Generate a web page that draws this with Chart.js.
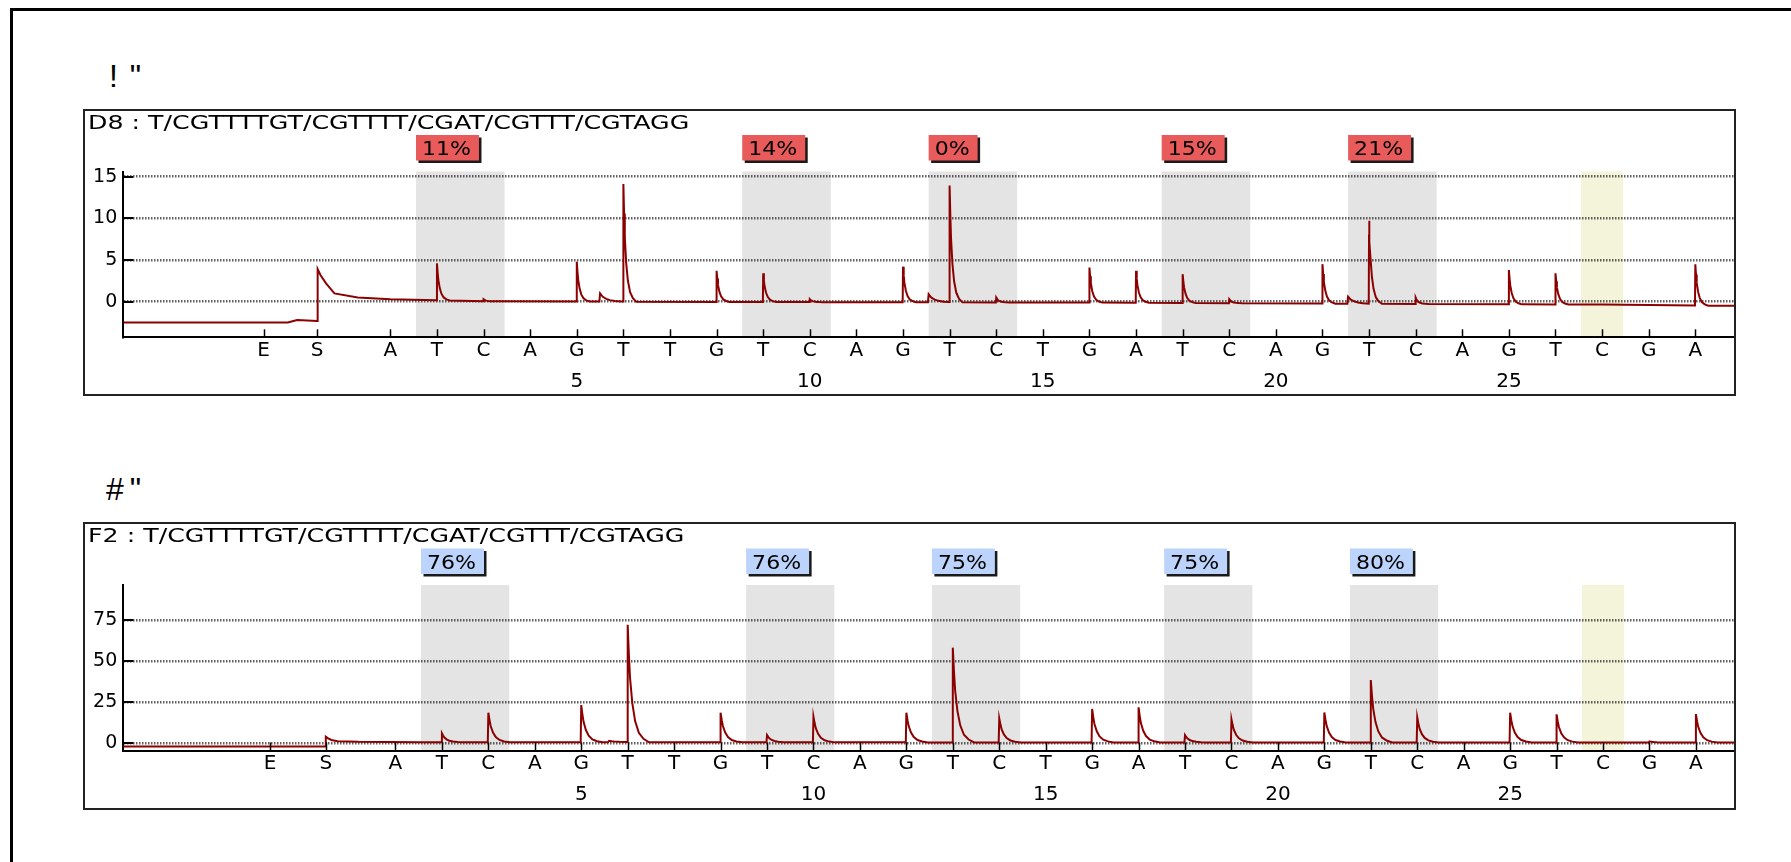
<!DOCTYPE html>
<html>
<head>
<meta charset="utf-8">
<script src="https://cdn.jsdelivr.net/npm/chart.js@4.4.0/dist/chart.umd.min.js"></script>
<style>
  html, body { margin: 0; padding: 0; background: #fff; overflow: hidden; }
  body { width: 1791px; height: 862px; position: relative; font-family: "DejaVu Sans", sans-serif; }
  .frame { position: absolute; left: 10px; top: 8px; width: 1900px; height: 1000px; border: 3px solid #000; }
  .tag { position: absolute; font-family: "Liberation Sans", Arial, sans-serif; font-size: 32px; line-height: 32px; color: #000; white-space: pre; }
  .panel { position: absolute; left: 83px; width: 1653px; border: 2px solid #222; box-sizing: border-box; background: #fff; }
  .panel canvas { position: absolute; left: 0; top: 0; }
</style>
</head>
<body>
<div class="frame"></div>
<div class="tag" style="left:109px; top:60px; letter-spacing:1.5px;">! "</div>
<div class="panel" style="top:109px; height:287px;"><canvas id="d8" width="1649" height="283"></canvas></div>
<div class="tag" style="left:106px; top:473px; letter-spacing:6px;">#"</div>
<div class="panel" style="top:522px; height:288px;"><canvas id="f2" width="1649" height="284"></canvas></div>

<script>
// dispensation order and axis labels
const dispensations = ['A','T','C','A','G','T','T','G','T','C','A','G','T','C','T','G','A','T','C','A','G','T','C','A','G','T','C','G','A'];
const startLabels = ['E', 'S'];
const positionLabels = [5, 10, 15, 20, 25];
const assay = 'T/CGTTTTGT/CGTTTT/CGAT/CGTTT/CGTAGG';

// CpG sites (T and C dispensation), plus the bisulfite control C
const cpgSites = [[2, 3], [9, 10], [13, 14], [18, 19], [22, 23]];
const controlSite = 27;

// D8: peak height per dispensation
const d8Peaks = [0, 4.6, 0.3, 0, 4.8, 14.1, 0, 3.7, 3.4, 0.3, 0, 4.2, 13.9, 0.5, 0, 4.1, 3.7, 3.3, 0.3, 0, 4.5, 9.7, 0.5, 0, 3.8, 3.4, 0, 0, 4.5];
const d8Bumps = [[5.5, 1.0], [12.55, 0.9], [21.55, 0.6]];
const d8Baseline = [[-4.73, -2.5], [-1.2, -2.5], [-1.0, -2.2], [-0.57, -2.3], [-0.56, 3.9], [-0.5, 3.2], [-0.38, 2.2], [-0.2, 1.0], [0.3, 0.5], [1.0, 0.3], [3, 0.05], [10, -0.05], [16, -0.1], [22, -0.25], [27, -0.35], [29.83, -0.5]];
const d8Marks = [-1.72, -0.57];
const d8Percent = ['11%', '14%', '0%', '15%', '21%'];
const d8XRange = [-4.73, 29.83];
const d8YRange = [-4.27, 15.62];
const d8YTicks = [0, 5, 10, 15];

// F2: peak height per dispensation
const f2Peaks = [0, 6.1, 18.6, 0, 23.3, 72, 0, 18.6, 5.0, 16.2, 0, 18.6, 58.2, 15.2, 0, 20.9, 21.9, 5.0, 14.6, 0, 18.8, 38.5, 15.8, 0, 18.6, 17.6, 0, 1.2, 17.8];
const f2Bumps = [[5.6, 1.5]];
const f2Baseline = [[-4.86, -1.9], [-0.51, -1.9], [-0.5, 4.0], [-0.45, 3.0], [-0.38, 2.0], [-0.25, 1.3], [0.2, 0.9], [1.5, 0.6], [29.82, 0.5]];
const f2Marks = [-1.7, -0.5];
const f2Percent = ['76%', '76%', '75%', '75%', '80%'];
const f2XRange = [-4.86, 29.82];
const f2YRange = [-4.38, 96.3];
const f2YTicks = [0, 25, 50, 75];

// rise and decay of a single nucleotide incorporation signal
const peakShape = [[-0.012, 0], [0, 1], [0.025, 0.75], [0.05, 0.55], [0.1, 0.33], [0.16, 0.18], [0.24, 0.08], [0.34, 0.03], [0.46, 0]];

function lerp(pts, x) {
  if (x <= pts[0][0]) return pts[0][1];
  for (let i = 1; i < pts.length; i++) {
    if (x <= pts[i][0]) {
      const [x0, y0] = pts[i - 1], [x1, y1] = pts[i];
      return y0 + (y1 - y0) * (x - x0) / (x1 - x0);
    }
  }
  return pts[pts.length - 1][1];
}

function buildTrace(p) {
  const peaks = p.peaks.map((h, i) => ({ at: i + 1, h: h, w: p.width }))
    .filter(k => k.h > 0)
    .concat(p.bumps.map(b => ({ at: b[0], h: b[1], w: p.width * 2.2 })));
  peaks.forEach(k => { k.amp = k.h - lerp(p.baseline, k.at); });
  const xs = p.baseline.map(k => k[0]);
  peaks.forEach(k => peakShape.forEach(s => xs.push(k.at + s[0] * k.w)));
  xs.sort((a, b) => a - b);
  const last = peakShape[peakShape.length - 1][0];
  return xs.map(x => {
    let y = lerp(p.baseline, x);
    peaks.forEach(k => {
      const o = (x - k.at) / k.w;
      if (o > peakShape[0][0] && o < last) y += k.amp * lerp(peakShape, o);
    });
    return { x: x, y: y };
  });
}

function decor(p) {
  return {
    id: 'decor',
    beforeDraw(chart) {
      const { ctx, chartArea: a, scales: { x } } = chart;
      ctx.save();
      ctx.fillStyle = '#e4e4e4';
      cpgSites.forEach(([t, c]) => {
        const l = x.getPixelForValue(t - 0.45), r = x.getPixelForValue(c + 0.45);
        ctx.fillRect(l, a.top, r - l, a.bottom - a.top);
      });
      ctx.fillStyle = '#f4f4da';
      const l = x.getPixelForValue(controlSite - 0.45), r = x.getPixelForValue(controlSite + 0.45);
      ctx.fillRect(l, a.top, r - l, a.bottom - a.top);
      ctx.restore();
    },
    afterDraw(chart) {
      const { ctx, chartArea: a, scales: { x, y } } = chart;
      ctx.save();
      // sample title
      ctx.fillStyle = '#000';
      ctx.font = '19px "DejaVu Sans"';
      ctx.textBaseline = 'alphabetic';
      ctx.save();
      ctx.translate(3, 18.3);
      ctx.scale(1.33, 1);
      ctx.fillText(p.title, 0, 0);
      ctx.restore();

      // methylation percentage boxes above each CpG site
      cpgSites.forEach(([t], i) => {
        const bx = x.getPixelForValue(t - 0.45);
        const by = a.top - 36.5;
        const tw = ctx.measureText(p.percents[i]).width * 1.16;
        const bw = tw + 14, bh = 25.5;
        ctx.fillStyle = '#1a1a1a';
        ctx.fillRect(bx + 2.5, by + 2.5, bw, bh);
        ctx.fillStyle = p.labelFill;
        ctx.fillRect(bx, by, bw, bh);
        ctx.fillStyle = '#000';
        ctx.save();
        ctx.translate(bx + 6, by + 20);
        ctx.scale(1.16, 1);
        ctx.fillText(p.percents[i], 0, 0);
        ctx.restore();
      });

      // inward tick marks
      ctx.strokeStyle = '#000';
      ctx.lineWidth = 1.5;
      x.ticks.forEach(t => {
        const px = Math.round(x.getPixelForValue(t.value)) + 0.5;
        ctx.beginPath();
        ctx.moveTo(px, a.bottom);
        ctx.lineTo(px, a.bottom - 8);
        ctx.stroke();
      });
      ctx.lineWidth = 2;
      y.ticks.forEach(t => {
        const py = Math.round(y.getPixelForValue(t.value));
        ctx.beginPath();
        ctx.moveTo(a.left, py);
        ctx.lineTo(a.left + 10, py);
        ctx.stroke();
      });
      ctx.restore();
    }
  };
}

function makePanel(id, p) {
  const tickValues = p.marks.concat(dispensations.map((d, i) => i + 1));
  const tickText = startLabels.concat(dispensations);
  return new Chart(document.getElementById(id), {
    type: 'line',
    data: {
      datasets: [{
        data: buildTrace(p),
        borderColor: '#8b0000',
        borderWidth: 2,
        pointRadius: 0,
        tension: 0,
        fill: false
      }]
    },
    options: {
      responsive: false,
      animation: false,
      devicePixelRatio: 1,
      layout: { padding: { top: p.top, left: 0, right: 0, bottom: 0 } },
      plugins: { legend: { display: false }, tooltip: { enabled: false } },
      scales: {
        x: {
          type: 'linear',
          bounds: 'data',
          min: p.xRange[0],
          max: p.xRange[1],
          grid: { display: false, drawTicks: false },
          border: { display: true, color: '#000', width: 2 },
          afterBuildTicks: sc => { sc.ticks = tickValues.map(v => ({ value: v })); },
          afterFit: sc => { sc.height = p.axisHeight; },
          ticks: {
            autoSkip: false,
            maxRotation: 0,
            padding: -2,
            color: '#000',
            font: { family: 'DejaVu Sans', size: 20, lineHeight: 1.55 },
            callback: (v, i) => {
              const n = i - 1;
              return positionLabels.includes(n) ? [tickText[i], String(n)] : tickText[i];
            }
          }
        },
        y: {
          type: 'linear',
          bounds: 'data',
          min: p.yRange[0],
          max: p.yRange[1],
          grid: { color: 'rgba(30,30,30,0.7)', lineWidth: 2.5, drawTicks: false },
          border: { display: true, color: '#000', width: 2, dash: [1.5, 1.5] },
          afterBuildTicks: sc => { sc.ticks = p.yTicks.map(v => ({ value: v })); },
          afterFit: sc => { sc.width = 38.3; },
          ticks: { padding: 6, color: '#000', font: { family: 'DejaVu Sans', size: 19 } }
        }
      }
    },
    plugins: [decor(p)]
  });
}

makePanel('d8', {
  title: 'D8 : ' + assay,
  peaks: d8Peaks, bumps: d8Bumps, baseline: d8Baseline, marks: d8Marks,
  percents: d8Percent, labelFill: '#e95b5b',
  xRange: d8XRange, yRange: d8YRange, yTicks: d8YTicks,
  width: 0.6, top: 60.5, axisHeight: 56.7
});

makePanel('f2', {
  title: 'F2 : ' + assay,
  peaks: f2Peaks, bumps: f2Bumps, baseline: f2Baseline, marks: f2Marks,
  percents: f2Percent, labelFill: '#bcd4fb',
  xRange: f2XRange, yRange: f2YRange, yTicks: f2YTicks,
  width: 1.0, top: 61, axisHeight: 57.5
});
</script>
</body>
</html>
